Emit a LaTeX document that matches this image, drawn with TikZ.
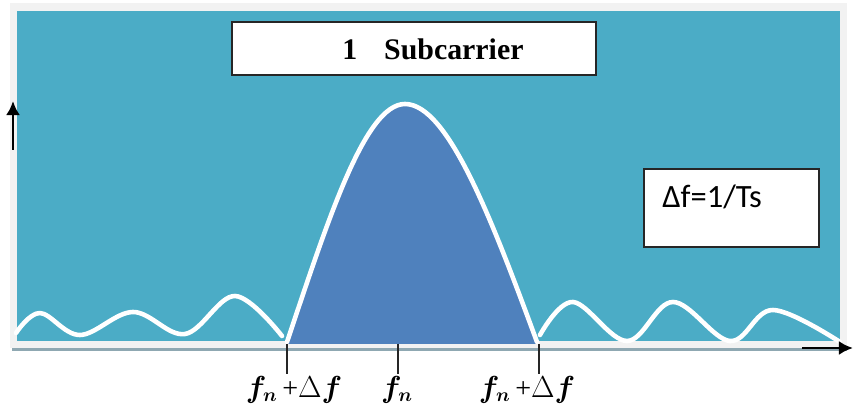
\documentclass[tikz,border=0pt]{standalone}
\usepackage{amsmath,amssymb}
\usepackage{fontspec}
\setmainfont{Liberation Serif}
\newfontfamily\calib{Carlito}
\usepackage{tikz}
\usetikzlibrary{positioning,arrows.meta,calc}
\definecolor{aqua}{HTML}{4BACC6}
\definecolor{lobeblue}{HTML}{4F81BD}
\definecolor{rim}{HTML}{F2F2F2}
\definecolor{rimshade}{HTML}{8FA8B2}
\tikzset{
  labelbox/.style={draw=black!85, fill=white, line width=0.7pt},
  wave/.style    ={white, line width=2.6pt, line cap=round, line join=round},
  tickline/.style={black!85, line width=0.6pt},
  ticklbl/.style ={font=\fontsize{16}{18}\selectfont, inner sep=1pt, anchor=north},
  axisarr/.style ={-{Latex[length=8pt,width=8pt]}, line width=1.6pt},
}
\begin{document}
\begin{tikzpicture}[x=0.02cm,y=-0.02cm]
\useasboundingbox (0,0) rectangle (853,405);
% panel
\fill[rimshade] (12,344) rectangle (847,351);
\fill[rim] (10,3) rectangle (847,348);
\fill[aqua] (17,11) rectangle (840,341);

% side lobes
\draw[wave] plot[smooth,tension=0.6] coordinates
  {(16,333) (40,313) (80,335) (133,312) (185,334) (235,296) (282,336)};
\draw[wave] plot[smooth,tension=0.6] coordinates
  {(540,335) (573,302) (627,341) (673,302) (730,341) (773,310) (840,342)};

% main lobe
\fill[lobeblue] (287,344) .. controls (328,220) and (365,104) .. (405,104)
  .. controls (448,104) and (492,220) .. (537,344) -- cycle;
\draw[wave] (287,342) .. controls (328,220) and (365,104) .. (405,104)
  .. controls (448,104) and (492,220) .. (537,342);

% text boxes
\draw[labelbox] (232,22) rectangle (596,75);
\node[font=\fontsize{17}{19}\selectfont\bfseries] (title) at (433,49) {1\hspace{0.9em}Subcarrier};
\draw[labelbox] (644,169) rectangle (819,247);
\node[font=\calib\fontsize{18.5}{20}\selectfont, anchor=west, inner sep=0pt] (spacing) at (662,197) {Δf=1/Ts};

% axes
\coordinate (yfoot) at (13,150);
\coordinate (ytip) at (13,101);
\draw[axisarr] (yfoot) -- (ytip);
\coordinate (xfoot) at (802,348);
\coordinate (xtip) at (853,348);
\draw[axisarr] (xfoot) -- (xtip);

% ticks
\coordinate (tL) at (287,344);
\coordinate (tC) at (398,344);
\coordinate (tR) at (539,344);
\node[ticklbl] (lblL) at (294,374) {$\boldsymbol{f_n}$\,+$\Delta\boldsymbol{f}$};
\node[ticklbl] (lblC) at (397,374) {$\boldsymbol{f_n}$};
\node[ticklbl] (lblR) at (527,374) {$\boldsymbol{f_n}$\,+$\Delta\boldsymbol{f}$};
\draw[tickline] (tL) -- (tL|-lblL.north);
\draw[tickline] (tC) -- (tC|-lblC.north);
\draw[tickline] (tR) -- (tR|-lblR.north);
\end{tikzpicture}
\end{document}
